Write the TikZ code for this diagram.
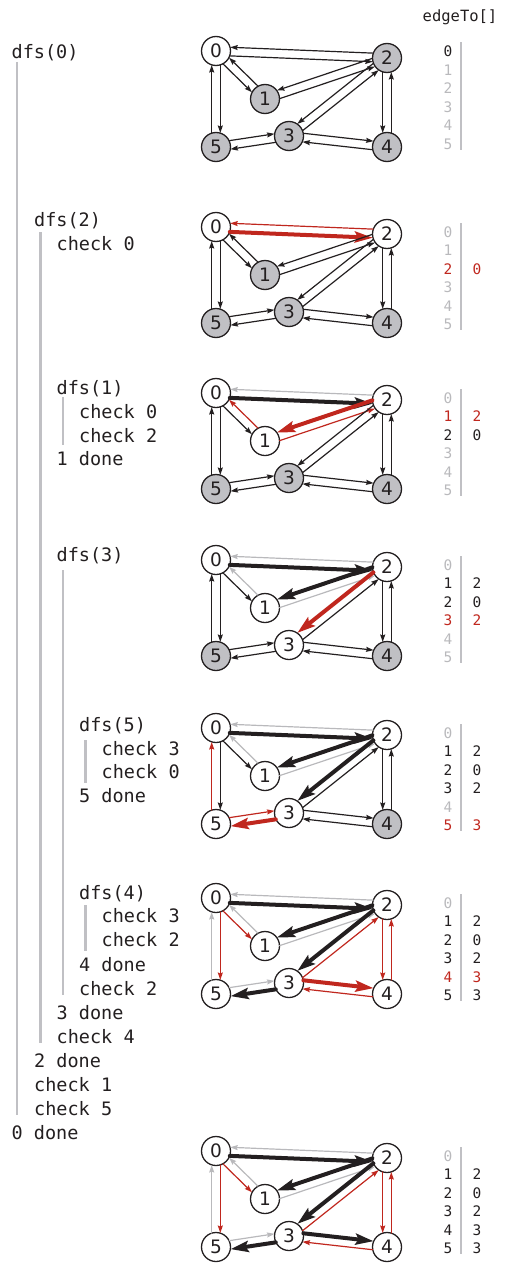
\documentclass[tikz,border=0pt]{standalone}
\usepackage{fontspec}
\usetikzlibrary{calc,arrows.meta}

\newfontfamily\monofam{DejaVu Sans Mono}
\newfontfamily\sansfam{DejaVu Sans}
\newcommand{\codefont}{\monofam\fontsize{18.5}{20}\selectfont}
\newcommand{\tabfont}{\monofam\fontsize{14.5}{16}\selectfont}
\newcommand{\headfont}{\monofam\fontsize{15.5}{17}\selectfont}
\newcommand{\vfont}{\sansfam\fontsize{18.5}{20}\selectfont}

\definecolor{ink}{RGB}{35,31,32}
\definecolor{dfsred}{RGB}{192,39,30}
\definecolor{faint}{RGB}{185,185,188}
\definecolor{barcol}{RGB}{192,192,196}
\definecolor{vgray}{RGB}{192,192,196}

\def\arcgap{4.3pt}

% -------------------------------------------------
% the six vertices of one snapshot
% #1 name prefix, #2 y of vertex 0, #3..#8 fill of 0..5
% -------------------------------------------------
\newcommand{\vertices}[8]{%
  \node[vtx,fill=#3] (#10) at (216,#2) {0};
  \node[vtx,fill=#4] (#11) at (265,#2+48) {1};
  \node[vtx,fill=#5] (#12) at (387,#2+7) {2};
  \node[vtx,fill=#6] (#13) at (289,#2+85) {3};
  \node[vtx,fill=#7] (#14) at (387,#2+96) {4};
  \node[vtx,fill=#8] (#15) at (216,#2+96) {5};
}

% -------------------------------------------------
% both directions of every edge, side by side
% style of a->b is plain unless eab is set in the scope
% -------------------------------------------------
\newcommand{\arcs}[1]{%
  \foreach \a/\b/\s/\t in {0/2/-90/90, 2/0/-90/90, 0/1/-90/90, 1/0/-90/90,
      1/2/-90/90, 2/1/-90/90, 2/3/-90/90, 3/2/-90/90, 2/4/-90/90, 4/2/-90/90,
      0/5/90/-90, 5/0/90/-90, 5/3/90/-90, 3/5/90/-90, 3/4/90/-90, 4/3/90/-90}
    \draw[plain, e\a\b/.try] ($(#1\a)!\arcgap!\s:(#1\b)$) -- ($(#1\b)!\arcgap!\t:(#1\a)$);
}

% -------------------------------------------------
% edgeTo[] column: #1 prefix, #2 y of row 0, #3 i/colour
% -------------------------------------------------
\newcommand{\edgetab}[3]{%
  \coordinate (#1top) at (461,#2-9);
  \coordinate (#1bot) at (461,#2+98);
  \draw[trace,line width=2pt] (#1top) -- (#1bot);
  \foreach \i/\c in {#3}
    \node[cell,text=\c] (#1r\i) at (448,#2+18.5*\i) {\i};
}

\begin{document}
\begin{tikzpicture}[
    x=1pt, y=-1pt,
    line cap=round,
    line join=round,
    vtx/.style={circle, draw=ink, line width=1.3pt, minimum size=29pt, inner sep=0pt, font=\vfont, text=ink},
    plain/.style={draw=ink, line width=1.2pt, shorten <=14pt, shorten >=14pt,
        -{Stealth[length=7.5pt,width=5pt,inset=1pt]}},
    seen/.style={plain, draw=faint},
    fresh/.style={plain, draw=dfsred},
    tree/.style={plain, line width=4pt, -{Stealth[length=18pt,width=11pt,inset=3pt]}},
    treenew/.style={tree, draw=dfsred},
    code/.style={anchor=west, inner sep=0pt, font=\codefont, text=ink, text height=13.4pt, text depth=0pt},
    cell/.style={inner sep=0pt, font=\tabfont},
    trace/.style={draw=barcol, line width=2.5pt, line cap=butt}
]
\useasboundingbox (0,0) rectangle (507,1263);

% -------------------------------------------------
% trace of the calls
% -------------------------------------------------
\node[code] (dfs0)  at (11.5,51.7)  {dfs(0)};
\node[code] (dfs2)  at (34,220)     {dfs(2)};
\node[code] (c20)   at (56.5,243.5) {check 0};
\node[code] (dfs1)  at (56.5,388)   {dfs(1)};
\node[code] (c10)   at (79,412)     {check 0};
\node[code] (c12)   at (79,435.5)   {check 2};
\node[code] (done1) at (56.5,459)   {1 done};
\node[code] (dfs3)  at (56.5,555)   {dfs(3)};
\node[code] (dfs5)  at (79,725)     {dfs(5)};
\node[code] (c53)   at (101.5,748.3) {check 3};
\node[code] (c50)   at (101.5,771.7) {check 0};
\node[code] (done5) at (79,796)     {5 done};
\node[code] (dfs4)  at (79,892.7)   {dfs(4)};
\node[code] (c43)   at (101.5,916)  {check 3};
\node[code] (c42)   at (101.5,940)  {check 2};
\node[code] (done4) at (79,965)     {4 done};
\node[code] (c32)   at (79,988.5)   {check 2};
\node[code] (done3) at (56.5,1013)  {3 done};
\node[code] (c24)   at (56.5,1036.7) {check 4};
\node[code] (done2) at (34,1060.5)  {2 done};
\node[code] (c01)   at (34,1084.5)  {check 1};
\node[code] (c05)   at (34,1108.5)  {check 5};
\node[code] (done0) at (11.5,1132.5) {0 done};

% call depth bars
\draw[trace] (17,62) -- (17,1115);
\draw[trace] (40.5,232) -- (40.5,1043);
\draw[trace] (63,397) -- (63,445);
\draw[trace] (63,570) -- (63,995);
\draw[trace] (85.5,740) -- (85.5,783);
\draw[trace] (85.5,905) -- (85.5,951);

% -------------------------------------------------
% snapshots of the graph
% -------------------------------------------------
\node[font=\headfont, text=ink] (head) at (460,17) {edgeTo[]};

% dfs(0)
\vertices{a}{51}{white}{vgray}{vgray}{vgray}{vgray}{vgray}
\arcs{a}
\edgetab{a}{51.5}{0/ink,1/faint,2/faint,3/faint,4/faint,5/faint}

% dfs(2)
\begin{scope}[e02/.style=treenew, e20/.style=fresh]
  \vertices{b}{227}{white}{vgray}{white}{vgray}{vgray}{vgray}
  \arcs{b}
\end{scope}
\edgetab{b}{232}{0/faint,1/faint,2/dfsred,3/faint,4/faint,5/faint}
\node[cell,text=dfsred] (bv2) at (477,232+37) {0};

% dfs(1)
\begin{scope}[e02/.style=tree, e20/.style=seen, e21/.style=treenew,
    e12/.style=fresh, e10/.style=fresh]
  \vertices{c}{393}{white}{white}{white}{vgray}{vgray}{vgray}
  \arcs{c}
\end{scope}
\edgetab{c}{398}{0/faint,1/dfsred,2/ink,3/faint,4/faint,5/faint}
\foreach \i/\c/\v in {1/dfsred/2, 2/ink/0}
  \node[cell,text=\c] (cv\i) at (477,398+18.5*\i) {\v};

% dfs(3)
\begin{scope}[e02/.style=tree, e20/.style=seen, e21/.style=tree,
    e12/.style=seen, e10/.style=seen, e23/.style=treenew]
  \vertices{d}{560}{white}{white}{white}{white}{vgray}{vgray}
  \arcs{d}
\end{scope}
\edgetab{d}{565}{0/faint,1/ink,2/ink,3/dfsred,4/faint,5/faint}
\foreach \i/\c/\v in {1/ink/2, 2/ink/0, 3/dfsred/2}
  \node[cell,text=\c] (dv\i) at (477,565+18.5*\i) {\v};

% dfs(5)
\begin{scope}[e02/.style=tree, e20/.style=seen, e21/.style=tree,
    e12/.style=seen, e10/.style=seen, e23/.style=tree,
    e35/.style=treenew, e53/.style=fresh, e50/.style=fresh]
  \vertices{e}{728}{white}{white}{white}{white}{vgray}{white}
  \arcs{e}
\end{scope}
\edgetab{e}{733}{0/faint,1/ink,2/ink,3/ink,4/faint,5/dfsred}
\foreach \i/\c/\v in {1/ink/2, 2/ink/0, 3/ink/2, 5/dfsred/3}
  \node[cell,text=\c] (ev\i) at (477,733+18.5*\i) {\v};

% dfs(4)
\begin{scope}[e02/.style=tree, e20/.style=seen, e21/.style=tree,
    e12/.style=seen, e10/.style=seen, e01/.style=fresh,
    e23/.style=tree, e32/.style=fresh, e35/.style=tree,
    e53/.style=seen, e50/.style=seen, e05/.style=fresh,
    e34/.style=treenew, e43/.style=fresh, e24/.style=fresh, e42/.style=fresh]
  \vertices{f}{898}{white}{white}{white}{white}{white}{white}
  \arcs{f}
\end{scope}
\edgetab{f}{903}{0/faint,1/ink,2/ink,3/ink,4/dfsred,5/ink}
\foreach \i/\c/\v in {1/ink/2, 2/ink/0, 3/ink/2, 4/dfsred/3, 5/ink/3}
  \node[cell,text=\c] (fv\i) at (477,903+18.5*\i) {\v};

% done
\begin{scope}[e02/.style=tree, e20/.style=seen, e21/.style=tree,
    e12/.style=seen, e10/.style=seen, e01/.style=fresh,
    e23/.style=tree, e32/.style=fresh, e35/.style=tree,
    e53/.style=seen, e50/.style=seen, e05/.style=fresh,
    e34/.style=tree, e43/.style=fresh, e24/.style=fresh, e42/.style=fresh]
  \vertices{g}{1151}{white}{white}{white}{white}{white}{white}
  \arcs{g}
\end{scope}
\edgetab{g}{1156}{0/faint,1/ink,2/ink,3/ink,4/ink,5/ink}
\foreach \i/\v in {1/2, 2/0, 3/2, 4/3, 5/3}
  \node[cell,text=ink] (gv\i) at (477,1156+18.5*\i) {\v};

\end{tikzpicture}
\end{document}
